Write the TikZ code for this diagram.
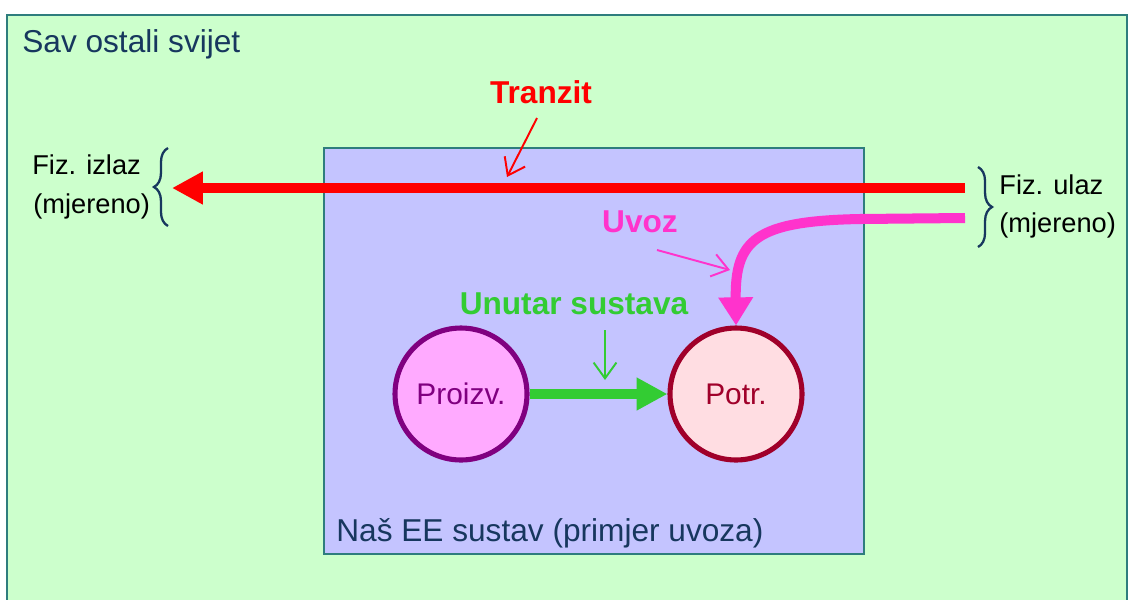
\documentclass[tikz,border=0pt]{standalone}
\usepackage{fontspec}
\setmainfont{Liberation Sans}
\usetikzlibrary{arrows.meta,decorations.pathreplacing,calc}
\definecolor{worldfill}{HTML}{CCFFCC}
\definecolor{sysfill}{HTML}{C4C4FF}
\definecolor{framec}{HTML}{2E7D7D}
\definecolor{navy}{HTML}{17375E}
\definecolor{tred}{HTML}{FF0000}
\definecolor{upink}{HTML}{FF33CC}
\definecolor{ugreen}{HTML}{33CC33}
\definecolor{prodfill}{HTML}{FFAAFF}
\definecolor{prodline}{HTML}{800080}
\definecolor{consfill}{HTML}{FFDDE2}
\definecolor{consline}{HTML}{A0002A}
\tikzset{
  areabox/.style={draw=framec, line width=1.3pt, anchor=north west, inner sep=0pt},
  bubble/.style={circle, line width=2.9pt, minimum size=2.64cm, inner sep=0pt, font=\fontsize{17}{20}\selectfont},
  plaintext/.style={inner sep=0pt, anchor=base west, font=\fontsize{15.5}{18}\selectfont},
  navytext/.style={inner sep=0pt, anchor=base west, text=navy, font=\fontsize{18}{21}\selectfont},
  flowlabel/.style={inner sep=0pt, font=\bfseries\fontsize{18}{21}\selectfont},
  bigflow/.style={line width=5.7pt},
  pointer/.style={line width=1.1pt, -{Straight Barb[length=9pt,width=13pt,line width=1.1pt]}},
  bracket/.style={draw=navy, line width=1.3pt, decorate, decoration={brace, amplitude=8pt}}
}
\begin{document}
\begin{tikzpicture}[x=0.02cm,y=-0.02cm]
\useasboundingbox (0,0) rectangle (1128,599);
\fill[white] (0,0) rectangle (1128,599);
% areas
\node[areabox, fill=worldfill, minimum width=22.4cm, minimum height=12.2cm] (world) at (6,14) {};
\node[areabox, fill=sysfill, minimum width=10.8cm, minimum height=8.12cm] (sys) at (323,147) {};
\node[navytext] (worldlbl) at (22,52) {Sav ostali svijet};
\node[navytext] (syslbl) at (336,541) {Naš EE sustav (primjer uvoza)};
% circles
\node[bubble, draw=prodline, fill=prodfill, text=prodline] (proizv) at (461,394) {Proizv.};
\node[bubble, draw=consline, fill=consfill, text=consline] (potr) at (736,394) {Potr.};
% big flows
\coordinate (tin) at (965,188);
\coordinate (tout) at (172,188);
\draw[bigflow, tred, -{Triangle[length=17.6pt,width=17.6pt]}] (tin) -- (tout);
\coordinate (uin) at (965,218);
\coordinate (ubend) at (860,219);
\draw[bigflow, upink, -{Triangle[length=16pt,width=18.8pt]}] (uin) -- (ubend) .. controls (755,221) and (735,240) .. (potr.north);
\draw[bigflow, ugreen, -{Triangle[length=17.6pt,width=17.6pt]}] (proizv.east) -- (potr.west);
% labels
\node[flowlabel, text=tred] (tranzit) at (541,92) {Tranzit};
\coordinate (tr1) at (537,118);
\coordinate (tr2) at (507,177);
\draw[pointer, tred] (tr1) -- (tr2);
\node[flowlabel, text=upink] (uvoz) at (640,222) {Uvoz};
\coordinate (uv1) at (657,250);
\coordinate (uv2) at (730,270);
\draw[pointer, upink] (uv1) -- (uv2);
\node[flowlabel, text=ugreen] (unutar) at (574,304) {Unutar sustava};
\coordinate (un1) at (605,330);
\coordinate (un2) at (605,380);
\draw[pointer, ugreen] (un1) -- (un2);
% measured ends
\node[plaintext] (izlaz1) at (32,174) {Fiz. izlaz};
\node[plaintext] (izlaz2) at (33,213) {(mjereno)};
\node[plaintext] (ulaz1) at (999,194) {Fiz. ulaz};
\node[plaintext] (ulaz2) at (999,232) {(mjereno)};
\coordinate (lb1) at (168,226);
\coordinate (lb2) at (168,148);
\draw[bracket] (lb1) -- (lb2);
\coordinate (rb1) at (978,167);
\coordinate (rb2) at (978,247);
\draw[bracket] (rb1) -- (rb2);
\end{tikzpicture}
\end{document}
